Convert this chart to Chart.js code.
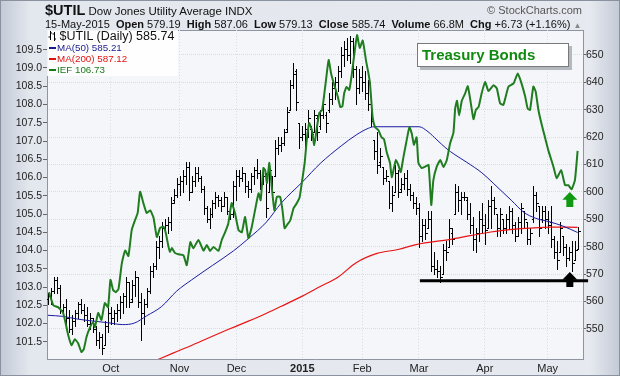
<!DOCTYPE html>
<html>
<head>
<meta charset="utf-8">
<script src="https://cdn.jsdelivr.net/npm/chart.js@4.4.1/dist/chart.umd.min.js"></script>
<style>
  body { margin: 0; }
  #wrap { position: relative; width: 620px; height: 376px; overflow: hidden;
    font-family: "Liberation Sans", Arial, sans-serif; color: #111;
    background: linear-gradient(90deg, #c3cad6 0px, #e3e7ee 30px, #e6e9ef 590px, #c3cad6 620px); }
  #frame { position: absolute; left: 0; top: 0; width: 618px; height: 374px; border: 1px solid #8a92a0; }
  canvas { position: absolute; left: 0; top: 0; }
  .txt { position: absolute; white-space: nowrap; }
  #t1 { left: 45px; top: 1px; font-size: 11.5px; line-height: 18px; }
  #t1 b { font-size: 14.5px; }
  #sc { right: 38px; top: 4px; font-size: 11px; color: #555; }
  #t2 { left: 45px; top: 17px; font-size: 11px; line-height: 14px; }
  #t2 b { margin-left: 3px; }
  #t2 .up { color: #888; font-size: 8px; margin-left: 3px; }
  #leg { left: 47px; top: 30px; width: 131px; height: 46px; background: rgba(255,255,255,0.88); }
  #leg div { height: 11px; line-height: 11px; font-size: 9.8px; padding-left: 2px; }
  #leg div.first { height: 12px; line-height: 12px; font-size: 12.5px; padding-left: 1px; }
  #leg i { display: inline-block; width: 7px; height: 2px; vertical-align: middle; margin-right: 1px; }
  #tb { left: 417px; top: 43px; width: 146px; height: 22px; line-height: 22px; background: #fff;
    border: 1px solid #7a7a7a; box-shadow: 3px 3px 0 #b4b8bf; font-weight: bold; font-size: 15px;
    color: #118a11; padding-left: 4px; }
</style>
</head>
<body>
<div id="wrap">
  <canvas id="chart" width="620" height="376"></canvas>
  <div id="frame"></div>
  <div class="txt" id="t1"><b>$UTIL</b> Dow Jones Utility Average INDX</div>
  <div class="txt" id="sc">&copy; StockCharts.com</div>
  <div class="txt" id="t2">15-May-2015 <b>Open</b> 579.19 <b>High</b> 587.06 <b>Low</b> 579.13 <b>Close</b> 585.74 <b>Volume</b> 66.8M <b>Chg</b> +6.73 (+1.16%)<span class="up">&#9650;</span></div>
  <div class="txt" id="leg">
    <div class="first"><svg width="8" height="10" style="vertical-align:-1px"><path d="M2.5 0V9M0.5 6H2.5M2.5 2H4M6.5 1V10M4.5 3H6.5M6.5 8H8" stroke="#000" stroke-width="1" fill="none"/></svg> $UTIL (Daily) 585.74</div>
    <div style="color:#1a1a8c"><i style="background:#1a1a8c"></i>MA(50) 585.21</div>
    <div style="color:#e01010"><i style="background:#e01010"></i>MA(200) 587.12</div>
    <div style="color:#1a7a1a"><i style="background:#1a7a1a"></i>IEF 106.73</div>
  </div>
  <div class="txt" id="tb">Treasury Bonds</div>
</div>
<script>
const FONT = '"Liberation Sans", Arial, sans-serif';

// x axis: trading day index, 0 = 2-Sep-2014, 177 = 15-May-2015
const monthTicks = [21, 44, 63, 85, 105, 124, 146, 167];
const monthLabels = ['Oct', 'Nov', 'Dec', '2015', 'Feb', 'Mar', 'Apr', 'May'];
const priceTicks = [550, 560, 570, 580, 590, 600, 610, 620, 630, 640, 650];
const iefTicks = [101.5, 102, 102.5, 103, 103.5, 104, 104.5, 105, 105.5, 106, 106.5, 107, 107.5, 108, 108.5, 109, 109.5];

// $UTIL daily bars
const utilOpen = [
  561,562,564,568,565,557,558,554,550,553,556,559,557,555,552,554,550,546,547,544,
  551,556,554,556,557,560,562,567,561,566,569,560,556,559,564,571,573,580,582,587,
  588,589,597,599,603,604,606,609,600,604,607,605,601,594,590,592,596,598,597,595,
  598,593,592,602,606,605,607,602,601,606,608,607,603,606,600,606,606,616,617,618,
  623,630,639,644,625,620,621,623,623,622,627,624,628,628,630,634,638,640,644,650,
  652,650,655,645,638,642,640,636,632,619,615,611,609,605,604,596,600,607,601,603,
  605,601,599,596,594,584,588,587,590,573,572,571,570,579,580,585,592,600,597,598,
  597,592,588,583,585,590,588,587,595,597,592,587,590,587,590,593,588,584,589,593,
  589,583,590,599,595,590,593,590,589,583,578,578,584,580,576,578,575,579.19];
const utilHigh = [
  563,565,569,569,566,559,561,557,555,557,560,561,559,558,556,554,551,549,548,553,
  558,558,557,559,562,563,569,567,568,571,569,563,561,565,573,574,582,584,589,590,
  591,598,601,605,606,608,611,611,606,609,609,606,602,595,594,597,600,599,598,600,
  598,595,604,608,608,609,607,604,607,609,612,608,609,607,611,606,619,620,620,623,
  631,641,647,645,625,624,625,630,624,630,628,630,634,629,636,640,642,646,653,655,
  656,657,656,646,645,646,644,641,633,619,622,616,609,608,604,602,610,608,605,607,
  608,603,600,598,596,590,590,593,593,578,575,573,581,582,590,587,603,602,600,600,
  598,596,591,587,593,596,592,597,602,598,592,594,590,592,595,594,589,591,596,593,
  589,587,602,600,595,595,595,593,595,584,582,589,584,581,580,582,582,587.06];
const utilLow = [
  559,559,563,563,556,555,552,549,548,551,554,556,553,551,550,549,544,543,541,544,
  549,552,552,553,554,556,558,558,560,562,558,546,552,558,563,569,572,576,580,585,
  585,586,596,598,599,600,603,597,600,602,604,600,592,589,587,591,594,595,593,595,
  592,590,591,597,602,604,600,598,600,603,605,601,603,591,600,598,606,614,615,617,
  622,630,638,630,616,619,616,620,619,622,619,623,627,622,629,632,634,637,642,646,
  648,647,642,632,636,637,634,630,624,612,607,609,603,604,594,593,600,598,600,601,
  599,597,594,592,580,582,583,587,571,570,569,567,570,575,580,581,592,593,592,597,
  590,585,579,578,582,585,581,587,587,592,584,584,585,585,587,585,582,584,585,587,
  581,581,589,593,584,589,587,585,580,576,572,578,577,573,575,571,575,579.13];
const utilClose = [
  562,564,568,565,557,558,554,550,553,556,559,557,555,552,554,550,546,547,543,551,
  556,554,556,557,560,562,567,560,566,569,560,556,559,564,571,573,580,582,587,588,
  589,596,599,603,604,606,609,600,604,607,605,601,594,590,592,596,598,597,595,598,
  593,592,602,606,605,607,602,601,606,608,607,603,606,594,608,600,616,617,618,622,
  629,639,643,633,620,621,623,627,621,628,622,628,632,625,634,638,640,644,650,652,
  650,655,645,638,642,640,636,632,626,615,610,613,605,606,596,599,607,600,603,605,
  601,599,596,594,584,588,585,590,573,572,571,569,579,578,587,583,600,597,598,598,
  592,588,583,585,590,588,586,595,597,594,587,592,587,590,593,588,584,589,594,590,
  583,585,599,596,587,593,590,588,583,578,575,587,580,576,578,574,579,585.74];

// moving averages (day index, value)
const ma50Day = [0, 5, 10, 15, 20, 25, 29, 33, 38, 43, 48, 55, 62, 67, 73, 78, 85, 91, 98, 103, 107, 109, 124, 127, 130, 133, 136, 140, 145, 149, 155, 159, 163, 168, 172, 177];
const ma50Value = [555, 554.6, 553.6, 552.9, 552.3, 551.6, 552.2, 554.8, 558.2, 563.8, 567.9, 573.2, 578.5, 583, 589, 596, 603.6, 610.4, 616.8, 620.8, 623.2, 623.8, 623.8, 622, 619, 616, 613.6, 610.8, 607, 603, 596.8, 592.6, 590.4, 589, 587.6, 585.2];
const ma200Day = [36, 42, 48, 54, 60, 66, 72, 78, 85, 91, 97, 103, 110, 117, 123, 135, 148, 158, 168, 177];
const ma200Value = [538.5, 541.3, 544, 546.9, 549.7, 552.4, 555.2, 558.3, 562, 565.5, 569, 574.2, 577.6, 579, 580.8, 582.8, 585.4, 586.6, 587.2, 587.1];

// IEF close (left axis)
const iefDay = [
  0.4,1.8,3.4,5.1,6.8,7.9,9.0,10.1,11.2,12.0,12.9,14.0,15.1,15.7,16.8,17.9,19.0,20.1,20.9,21.8,
  22.7,23.6,24.7,25.8,26.9,28.0,29.1,30.0,30.8,31.9,33.0,34.2,35.3,36.4,37.5,38.6,39.4,40.3,40.8,41.4,
  42.5,43.6,45.3,46.4,47.6,48.6,50.3,52.0,53.1,54.2,55.3,57.0,58.1,59.2,60.3,61.4,62.5,63.7,64.8,65.9,
  67.0,68.1,69.2,70.4,71.1,72.0,72.6,73.2,74.0,74.8,75.7,76.5,77.6,78.4,79.1,79.9,81.0,82.1,83.2,84.1,
  84.9,85.8,86.5,87.3,88.2,89.0,89.9,90.7,91.6,92.1,93.0,93.8,94.6,95.2,96.0,96.9,97.7,98.4,99.0,99.8,
  100.7,101.5,102.5,103.3,104.2,105.2,106.3,107.0,107.6,108.5,109.3,110.4,111.5,112.3,113.2,114.3,114.9,115.7,116.3,117.1,
  117.9,118.8,119.9,120.8,121.6,122.3,123.2,123.8,124.9,126.1,127.2,128.1,128.8,129.9,131.1,132.2,133.3,134.4,135.5,136.1,
  136.7,137.4,138.3,139.4,140.3,141.1,142.2,143.0,143.9,145.0,146.1,147.2,148.9,150.0,151.1,152.2,153.9,155.6,157.0,158.1,
  159.5,160.3,161.1,162.2,163.0,163.9,165.0,166.1,167.2,168.9,170.0,171.5,172.8,173.9,175.0,176.1,177.0];
const iefValue = [
  102.86,102.5,102.45,102.29,101.68,101.41,101.57,101.46,101.22,101.3,101.63,101.88,102.04,101.9,102.29,102.1,102.56,102.45,103.2,102.92,
  102.86,102.95,103.65,104.0,103.85,104.56,104.83,105.03,105.61,105.3,105.03,105.1,104.9,104.37,104.62,104.65,104.48,104.1,103.96,104.07,
  103.93,103.9,103.87,103.6,104.23,104.06,104.29,104.0,104.15,103.99,104.1,103.99,104.29,104.5,104.75,105.3,105.03,104.56,104.5,104.92,
  104.34,104.64,105.1,105.57,105.38,106.26,106.2,105.85,106.4,105.74,105.1,105.47,105.47,105.1,104.61,104.7,104.83,105.16,105.3,105.45,
  105.88,106.4,107.03,107.49,107.3,106.89,107.38,107.77,107.85,108.12,108.72,109.22,108.86,108.67,108.45,108.2,107.93,107.95,108.31,108.48,
  108.4,108.8,109.45,109.9,109.55,109.75,109.2,108.9,108.6,107.66,107.38,107.3,107.1,107.05,106.7,106.4,106.01,106.29,106.48,106.34,
  106.15,106.56,107.03,107.38,107.2,106.9,107.1,106.4,106.26,106.3,106.34,105.25,105.93,106.29,106.48,106.29,106.48,106.94,107.22,107.9,
  108.1,107.7,108.1,108.3,108.5,108.15,107.6,107.85,107.93,108.33,108.62,108.37,108.53,108.44,108.03,107.99,108.49,108.58,108.85,108.62,
  108.21,107.89,107.85,108.49,108.35,107.85,107.45,107.1,106.75,106.3,105.98,106.2,105.79,105.79,105.68,105.93,106.73];

// annotations
const supportLevel = 567.6;
const supportDays = [124.3, 180.5];
const arrowDay = [174.4, 174.4];
const arrowTip = [600.0, 570.8];
const arrowBase = [594.5, 565.3];
const arrowColor = ['#119a11', '#000000'];

const toPoints = (days, values) => days.map((d, k) => ({ x: d, y: values[k] }));

const plotBackground = {
  id: 'plotBackground',
  beforeDraw(chart) {
    const { ctx, chartArea: a } = chart;
    ctx.save();
    ctx.fillStyle = '#f4f6fa';
    ctx.fillRect(a.left, a.top, a.right - a.left, a.bottom - a.top);
    ctx.strokeStyle = '#8e95a1';
    ctx.lineWidth = 1;
    ctx.beginPath();
    ctx.moveTo(a.left, a.top + 0.5);
    ctx.lineTo(a.right, a.top + 0.5);
    ctx.stroke();
    ctx.restore();
  }
};

// OHLC bars for $UTIL, placed with the chart's own scales
const ohlcBars = {
  id: 'ohlcBars',
  beforeDatasetsDraw(chart) {
    const { ctx, chartArea: a, scales: { x, yR } } = chart;
    ctx.save();
    ctx.beginPath();
    ctx.rect(a.left, a.top, a.right - a.left, a.bottom - a.top);
    ctx.clip();
    ctx.strokeStyle = '#000';
    ctx.lineWidth = 1;
    ctx.beginPath();
    for (let i = 0; i < utilClose.length; i++) {
      const px = Math.round(x.getPixelForValue(i));
      const hi = Math.round(yR.getPixelForValue(utilHigh[i]));
      const lo = Math.round(yR.getPixelForValue(utilLow[i]));
      const op = Math.round(yR.getPixelForValue(utilOpen[i])) + 0.5;
      const cl = Math.round(yR.getPixelForValue(utilClose[i])) + 0.5;
      ctx.moveTo(px + 0.5, hi);
      ctx.lineTo(px + 0.5, lo + 1);
      ctx.moveTo(px - 1, op);
      ctx.lineTo(px, op);
      ctx.moveTo(px + 1, cl);
      ctx.lineTo(px + 3, cl);
    }
    ctx.stroke();
    ctx.restore();
  }
};

const arrows = {
  id: 'arrows',
  afterDatasetsDraw(chart) {
    const { ctx, scales: { x, yR } } = chart;
    ctx.save();
    arrowDay.forEach((d, k) => {
      const cx = x.getPixelForValue(d);
      const top = yR.getPixelForValue(arrowTip[k]);
      const bottom = yR.getPixelForValue(arrowBase[k]);
      const head = (bottom - top) * 0.52;
      ctx.fillStyle = arrowColor[k];
      ctx.beginPath();
      ctx.moveTo(cx, top);
      ctx.lineTo(cx + 7.5, top + head);
      ctx.lineTo(cx + 3.5, top + head);
      ctx.lineTo(cx + 3.5, bottom);
      ctx.lineTo(cx - 3.5, bottom);
      ctx.lineTo(cx - 3.5, top + head);
      ctx.lineTo(cx - 7.5, top + head);
      ctx.closePath();
      ctx.fill();
    });
    ctx.restore();
  }
};

const ctx = document.getElementById('chart').getContext('2d');
new Chart(ctx, {
  type: 'line',
  data: {
    datasets: [
      {
        label: 'IEF', data: toPoints(iefDay, iefValue), yAxisID: 'yL',
        borderColor: '#1f7d1f', borderWidth: 2, pointRadius: 0, tension: 0.15
      },
      {
        label: 'MA(50)', data: toPoints(ma50Day, ma50Value), yAxisID: 'yR',
        borderColor: '#1c1ca0', borderWidth: 1, pointRadius: 0, cubicInterpolationMode: 'monotone'
      },
      {
        label: 'MA(200)', data: toPoints(ma200Day, ma200Value), yAxisID: 'yR',
        borderColor: '#e81414', borderWidth: 1.2, pointRadius: 0, cubicInterpolationMode: 'monotone'
      },
      {
        label: 'support', data: supportDays.map(d => ({ x: d, y: supportLevel })), yAxisID: 'yR',
        borderColor: '#000', borderWidth: 3, pointRadius: 0, clip: false
      }
    ]
  },
  options: {
    responsive: false,
    animation: false,
    events: [],
    layout: { padding: { top: 30, left: 0, right: 0, bottom: 0 } },
    plugins: { legend: { display: false }, tooltip: { enabled: false } },
    scales: {
      x: {
        type: 'linear', min: -0.3, max: 178.8,
        afterBuildTicks: s => { s.ticks = monthTicks.map(v => ({ value: v })); },
        afterFit: s => { s.height = 17; },
        grid: { color: '#d8dce4', drawTicks: false },
        border: { color: '#8e95a1', dash: [1, 2] },
        ticks: {
          autoSkip: false, maxRotation: 0, padding: 3, color: '#222',
          font: c => ({ family: FONT, size: 11, weight: (c.tick && c.tick.value === 85) ? 'bold' : 'normal' }),
          callback: v => monthLabels[monthTicks.indexOf(v)]
        }
      },
      yL: {
        type: 'linear', position: 'left', min: 101.03, max: 110.04,
        afterBuildTicks: s => { s.ticks = iefTicks.map(v => ({ value: v })); },
        afterFit: s => { s.width = 47; },
        grid: { drawOnChartArea: false, tickLength: 4, tickColor: '#666' },
        border: { color: '#8e95a1' },
        ticks: { padding: 1, color: '#222', font: { family: FONT, size: 10.5 }, callback: v => v.toFixed(1) }
      },
      yR: {
        type: 'linear', position: 'right', min: 539.05, max: 659.1,
        afterBuildTicks: s => { s.ticks = priceTicks.map(v => ({ value: v })); },
        afterFit: s => { s.width = 37; },
        grid: { color: '#d8dce4', tickLength: 3, tickColor: '#666' },
        border: { color: '#8e95a1', dash: [1, 1] },
        ticks: { padding: 0, color: '#222', font: { family: FONT, size: 10.5 }, callback: v => String(v) }
      }
    }
  },
  plugins: [plotBackground, ohlcBars, arrows]
});
</script>
</body>
</html>
